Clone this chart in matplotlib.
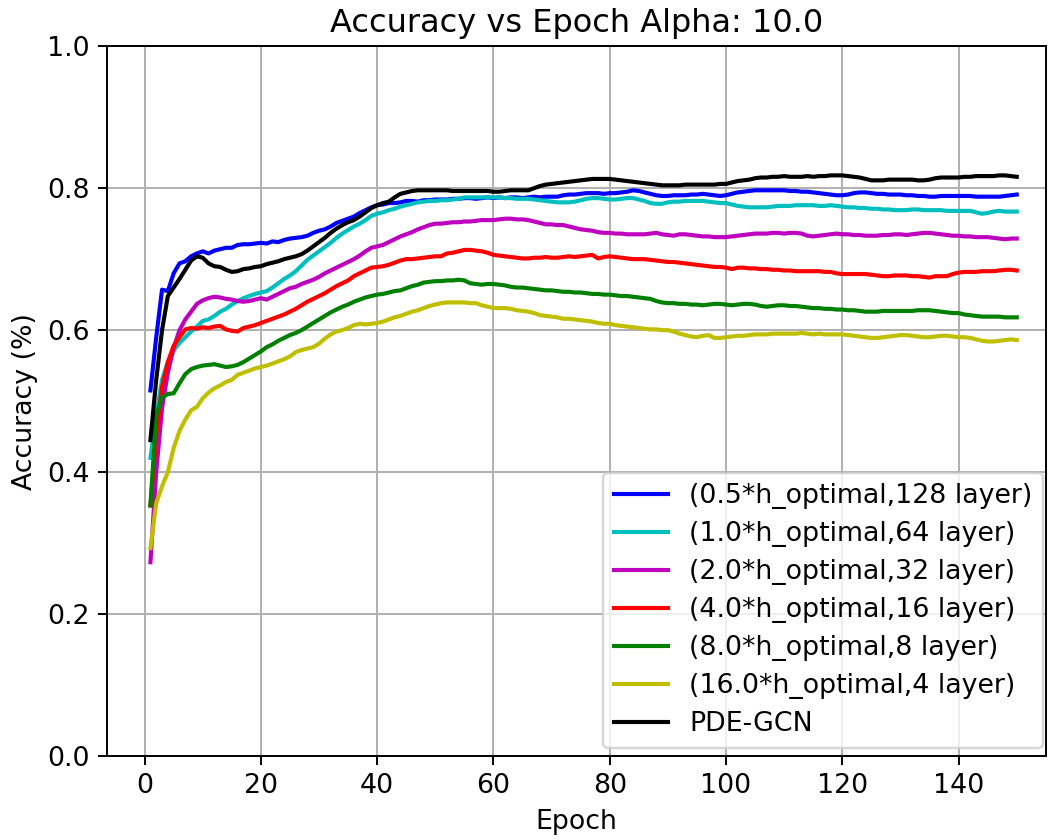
"""Accuracy vs epoch for several step sizes / depths."""

import matplotlib
matplotlib.use('Agg')
import matplotlib.pyplot as plt
import numpy as np


plt.rcParams['font.size'] = 11
plt.rcParams['axes.titlesize'] = 13.2

epochs = np.arange(1, 151)

labels = ['(0.5*h_optimal,128 layer)', '(1.0*h_optimal,64 layer)',
          '(2.0*h_optimal,32 layer)', '(4.0*h_optimal,16 layer)',
          '(8.0*h_optimal,8 layer)', '(16.0*h_optimal,4 layer)', 'PDE-GCN']

colors = ['b', 'c', 'm', 'r', 'g', 'y', 'k']


# ================================ DATA ======================================

acc_h05 = [
    0.515, 0.590, 0.657, 0.655, 0.680, 0.694, 0.697, 0.704, 0.708, 0.711,
    0.708, 0.712, 0.714, 0.716, 0.716, 0.720, 0.721, 0.721, 0.722, 0.723,
    0.722, 0.725, 0.724, 0.727, 0.729, 0.730, 0.731, 0.733, 0.737, 0.740,
    0.742, 0.746, 0.751, 0.754, 0.757, 0.760, 0.765, 0.769, 0.773, 0.776,
    0.777, 0.779, 0.779, 0.780, 0.782, 0.782, 0.781, 0.783, 0.783, 0.784,
    0.784, 0.784, 0.785, 0.785, 0.786, 0.786, 0.785, 0.786, 0.787, 0.786,
    0.787, 0.786, 0.787, 0.787, 0.786, 0.787, 0.788, 0.787, 0.788, 0.788,
    0.788, 0.790, 0.791, 0.791, 0.792, 0.793, 0.793, 0.793, 0.792, 0.793,
    0.793, 0.794, 0.795, 0.797, 0.796, 0.794, 0.792, 0.790, 0.789, 0.789,
    0.790, 0.790, 0.790, 0.791, 0.791, 0.792, 0.791, 0.790, 0.789, 0.790,
    0.792, 0.794, 0.795, 0.796, 0.797, 0.797, 0.797, 0.797, 0.797, 0.797,
    0.796, 0.796, 0.795, 0.795, 0.794, 0.793, 0.792, 0.791, 0.790, 0.790,
    0.791, 0.793, 0.794, 0.794, 0.793, 0.792, 0.792, 0.791, 0.791, 0.791,
    0.790, 0.790, 0.789, 0.789, 0.788, 0.788, 0.789, 0.789, 0.789, 0.789,
    0.789, 0.789, 0.788, 0.788, 0.788, 0.788, 0.788, 0.789, 0.790, 0.791,
]

acc_h1 = [
    0.420, 0.480, 0.530, 0.555, 0.572, 0.582, 0.590, 0.598, 0.605, 0.613,
    0.615, 0.620, 0.626, 0.630, 0.636, 0.641, 0.645, 0.648, 0.651, 0.653,
    0.655, 0.660, 0.666, 0.672, 0.677, 0.683, 0.691, 0.699, 0.705, 0.711,
    0.717, 0.723, 0.730, 0.736, 0.741, 0.746, 0.750, 0.755, 0.761, 0.764,
    0.766, 0.769, 0.771, 0.774, 0.776, 0.778, 0.780, 0.781, 0.782, 0.782,
    0.783, 0.783, 0.784, 0.785, 0.787, 0.787, 0.787, 0.787, 0.787, 0.787,
    0.787, 0.786, 0.786, 0.785, 0.785, 0.785, 0.784, 0.783, 0.782, 0.781,
    0.780, 0.780, 0.780, 0.781, 0.783, 0.785, 0.786, 0.786, 0.785, 0.784,
    0.784, 0.785, 0.786, 0.786, 0.784, 0.782, 0.779, 0.778, 0.778, 0.780,
    0.781, 0.781, 0.782, 0.782, 0.782, 0.782, 0.781, 0.780, 0.779, 0.779,
    0.777, 0.775, 0.774, 0.773, 0.773, 0.773, 0.773, 0.774, 0.775, 0.775,
    0.775, 0.776, 0.776, 0.776, 0.776, 0.775, 0.775, 0.776, 0.775, 0.774,
    0.773, 0.773, 0.772, 0.772, 0.771, 0.771, 0.770, 0.770, 0.769, 0.769,
    0.769, 0.770, 0.770, 0.769, 0.769, 0.769, 0.769, 0.768, 0.768, 0.768,
    0.768, 0.768, 0.766, 0.764, 0.765, 0.767, 0.768, 0.767, 0.767, 0.767,
]

acc_h2 = [
    0.273, 0.400, 0.490, 0.540, 0.575, 0.600, 0.615, 0.626, 0.637, 0.642,
    0.645, 0.647, 0.646, 0.644, 0.643, 0.641, 0.640, 0.641, 0.643, 0.645,
    0.643, 0.647, 0.651, 0.655, 0.659, 0.661, 0.665, 0.668, 0.671, 0.675,
    0.680, 0.684, 0.688, 0.692, 0.696, 0.700, 0.705, 0.711, 0.716, 0.718,
    0.720, 0.724, 0.728, 0.732, 0.735, 0.738, 0.742, 0.745, 0.748, 0.750,
    0.750, 0.751, 0.752, 0.752, 0.753, 0.753, 0.754, 0.755, 0.755, 0.755,
    0.756, 0.757, 0.757, 0.756, 0.756, 0.755, 0.753, 0.751, 0.749, 0.749,
    0.748, 0.748, 0.746, 0.744, 0.742, 0.741, 0.740, 0.738, 0.737, 0.737,
    0.736, 0.736, 0.735, 0.735, 0.735, 0.735, 0.736, 0.737, 0.735, 0.734,
    0.733, 0.735, 0.735, 0.734, 0.733, 0.732, 0.732, 0.731, 0.731, 0.731,
    0.732, 0.733, 0.734, 0.735, 0.736, 0.736, 0.736, 0.737, 0.737, 0.736,
    0.737, 0.737, 0.736, 0.733, 0.732, 0.733, 0.734, 0.735, 0.736, 0.735,
    0.735, 0.734, 0.734, 0.733, 0.733, 0.733, 0.734, 0.734, 0.735, 0.735,
    0.734, 0.735, 0.736, 0.737, 0.737, 0.736, 0.735, 0.734, 0.733, 0.733,
    0.732, 0.732, 0.731, 0.731, 0.731, 0.730, 0.729, 0.728, 0.729, 0.729,
]

acc_h4 = [
    0.353, 0.450, 0.520, 0.555, 0.578, 0.590, 0.601, 0.603, 0.602, 0.604,
    0.603, 0.605, 0.606, 0.601, 0.599, 0.598, 0.603, 0.605, 0.607, 0.610,
    0.613, 0.616, 0.619, 0.622, 0.626, 0.630, 0.635, 0.640, 0.644, 0.648,
    0.652, 0.657, 0.662, 0.666, 0.670, 0.676, 0.680, 0.684, 0.688, 0.689,
    0.690, 0.692, 0.695, 0.698, 0.700, 0.700, 0.701, 0.702, 0.703, 0.704,
    0.704, 0.708, 0.709, 0.711, 0.713, 0.713, 0.712, 0.711, 0.709, 0.706,
    0.705, 0.704, 0.703, 0.702, 0.701, 0.701, 0.702, 0.702, 0.703, 0.702,
    0.702, 0.703, 0.704, 0.703, 0.704, 0.705, 0.706, 0.701, 0.703, 0.704,
    0.703, 0.702, 0.701, 0.700, 0.700, 0.700, 0.699, 0.698, 0.697, 0.696,
    0.696, 0.695, 0.694, 0.693, 0.692, 0.691, 0.690, 0.689, 0.689, 0.688,
    0.686, 0.688, 0.688, 0.687, 0.687, 0.686, 0.686, 0.685, 0.685, 0.684,
    0.684, 0.683, 0.683, 0.683, 0.683, 0.683, 0.682, 0.682, 0.680, 0.679,
    0.679, 0.679, 0.679, 0.679, 0.678, 0.677, 0.676, 0.676, 0.677, 0.677,
    0.677, 0.676, 0.676, 0.675, 0.674, 0.676, 0.676, 0.676, 0.679, 0.681,
    0.682, 0.682, 0.682, 0.683, 0.683, 0.683, 0.684, 0.685, 0.685, 0.684,
]

acc_h8 = [
    0.353, 0.480, 0.505, 0.510, 0.511, 0.525, 0.538, 0.545, 0.548, 0.550,
    0.551, 0.552, 0.550, 0.548, 0.549, 0.551, 0.555, 0.560, 0.565, 0.570,
    0.576, 0.580, 0.585, 0.589, 0.593, 0.596, 0.600, 0.605, 0.610, 0.615,
    0.620, 0.625, 0.629, 0.633, 0.636, 0.640, 0.643, 0.646, 0.648, 0.650,
    0.651, 0.653, 0.655, 0.656, 0.659, 0.662, 0.664, 0.667, 0.668, 0.669,
    0.669, 0.670, 0.670, 0.671, 0.670, 0.666, 0.665, 0.664, 0.665, 0.665,
    0.664, 0.663, 0.661, 0.660, 0.660, 0.659, 0.658, 0.657, 0.656, 0.656,
    0.655, 0.654, 0.654, 0.653, 0.653, 0.652, 0.651, 0.651, 0.650, 0.650,
    0.649, 0.648, 0.648, 0.647, 0.646, 0.645, 0.644, 0.641, 0.639, 0.638,
    0.638, 0.637, 0.637, 0.636, 0.636, 0.635, 0.636, 0.637, 0.637, 0.636,
    0.635, 0.636, 0.637, 0.637, 0.636, 0.634, 0.633, 0.634, 0.635, 0.635,
    0.634, 0.634, 0.633, 0.632, 0.631, 0.631, 0.630, 0.630, 0.629, 0.629,
    0.628, 0.628, 0.627, 0.626, 0.626, 0.626, 0.627, 0.627, 0.627, 0.627,
    0.627, 0.627, 0.628, 0.628, 0.628, 0.627, 0.626, 0.625, 0.624, 0.624,
    0.622, 0.621, 0.620, 0.619, 0.619, 0.619, 0.619, 0.618, 0.618, 0.618,
]

acc_h16 = [
    0.293, 0.356, 0.380, 0.400, 0.434, 0.458, 0.474, 0.487, 0.492, 0.504,
    0.512, 0.518, 0.522, 0.527, 0.530, 0.537, 0.540, 0.543, 0.546, 0.548,
    0.550, 0.553, 0.556, 0.559, 0.563, 0.569, 0.572, 0.574, 0.576, 0.581,
    0.588, 0.594, 0.598, 0.600, 0.603, 0.607, 0.609, 0.608, 0.609, 0.610,
    0.612, 0.615, 0.618, 0.620, 0.623, 0.626, 0.628, 0.631, 0.634, 0.636,
    0.638, 0.639, 0.639, 0.639, 0.639, 0.638, 0.638, 0.635, 0.633, 0.631,
    0.631, 0.631, 0.630, 0.628, 0.627, 0.626, 0.624, 0.621, 0.620, 0.619,
    0.618, 0.616, 0.616, 0.615, 0.614, 0.613, 0.612, 0.610, 0.609, 0.609,
    0.607, 0.606, 0.605, 0.604, 0.603, 0.602, 0.601, 0.601, 0.600, 0.600,
    0.598, 0.595, 0.593, 0.591, 0.590, 0.592, 0.593, 0.589, 0.589, 0.590,
    0.591, 0.592, 0.592, 0.593, 0.594, 0.594, 0.594, 0.595, 0.595, 0.595,
    0.595, 0.595, 0.596, 0.595, 0.594, 0.595, 0.594, 0.594, 0.594, 0.594,
    0.593, 0.592, 0.591, 0.590, 0.589, 0.589, 0.590, 0.591, 0.592, 0.593,
    0.593, 0.592, 0.591, 0.590, 0.590, 0.591, 0.592, 0.592, 0.591, 0.590,
    0.590, 0.589, 0.587, 0.585, 0.584, 0.584, 0.585, 0.586, 0.587, 0.586,
]

acc_pde = [
    0.445, 0.530, 0.600, 0.648, 0.660, 0.672, 0.685, 0.698, 0.704, 0.702,
    0.694, 0.690, 0.689, 0.685, 0.682, 0.683, 0.686, 0.687, 0.689, 0.690,
    0.693, 0.695, 0.697, 0.700, 0.702, 0.704, 0.707, 0.712, 0.718, 0.724,
    0.730, 0.737, 0.743, 0.748, 0.752, 0.755, 0.760, 0.766, 0.772, 0.776,
    0.779, 0.781, 0.787, 0.792, 0.794, 0.796, 0.797, 0.797, 0.797, 0.797,
    0.797, 0.797, 0.796, 0.796, 0.796, 0.796, 0.796, 0.796, 0.796, 0.795,
    0.795, 0.796, 0.797, 0.797, 0.797, 0.797, 0.800, 0.803, 0.805, 0.806,
    0.807, 0.808, 0.809, 0.810, 0.811, 0.812, 0.813, 0.813, 0.813, 0.813,
    0.812, 0.811, 0.810, 0.809, 0.808, 0.807, 0.806, 0.805, 0.804, 0.804,
    0.804, 0.804, 0.805, 0.805, 0.805, 0.805, 0.805, 0.805, 0.806, 0.806,
    0.808, 0.810, 0.811, 0.812, 0.814, 0.815, 0.815, 0.816, 0.816, 0.817,
    0.816, 0.816, 0.816, 0.817, 0.816, 0.817, 0.817, 0.818, 0.818, 0.818,
    0.817, 0.816, 0.815, 0.813, 0.811, 0.811, 0.811, 0.812, 0.812, 0.812,
    0.812, 0.812, 0.811, 0.811, 0.812, 0.814, 0.815, 0.815, 0.815, 0.815,
    0.816, 0.816, 0.817, 0.817, 0.817, 0.817, 0.818, 0.818, 0.817, 0.816,
]

series = [acc_h05, acc_h1, acc_h2, acc_h4, acc_h8, acc_h16, acc_pde]


# ================================ PLOT ======================================

fig, ax = plt.subplots(figsize=(6, 4.8), dpi=175)
fig.subplots_adjust(left=0.102, right=0.996, bottom=0.1, top=0.945)

for acc, col, lab in zip(series, colors, labels):
    ax.plot(epochs, acc, color=col, label=lab, linewidth=1.7)

ax.set_xlim(-6.45, 155.0)
ax.set_ylim(0, 1.0)
ax.set_xticks(np.arange(0, 141, 20))
ax.grid(True)

ax.set_title('Accuracy vs Epoch Alpha: 10.0')
ax.set_xlabel('Epoch')
ax.set_ylabel('Accuracy (%)')
ax.legend(loc='lower right', bbox_to_anchor=(0.997, 0.011),
          borderaxespad=0, labelspacing=0.45)

fig.savefig('out.png', dpi=175)
